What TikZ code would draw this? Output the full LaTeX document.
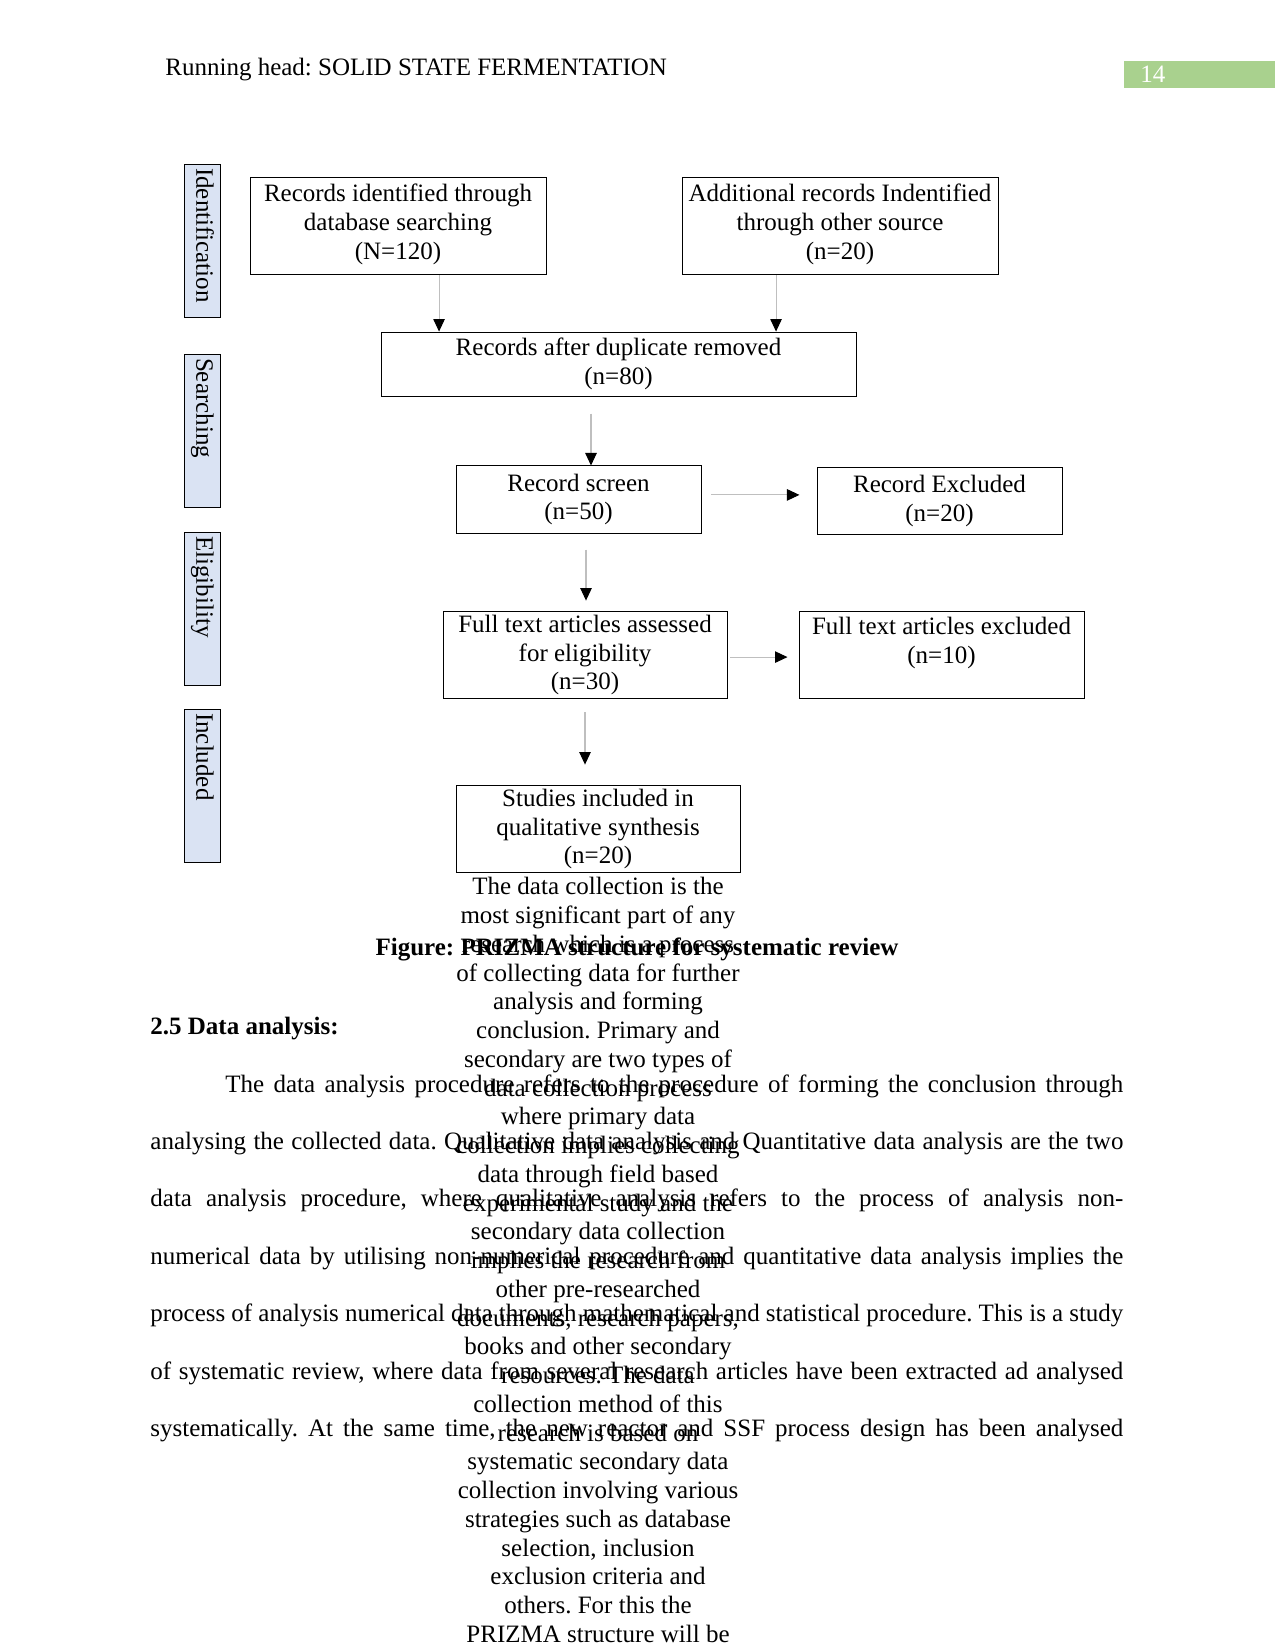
\documentclass[tikz,border=0pt]{standalone}
\usepackage{fontspec}
\setmainfont{Liberation Serif}
\usetikzlibrary{arrows.meta,positioning}
\definecolor{stageblue}{HTML}{DAE3F3}
\definecolor{pagegreen}{HTML}{A9D18E}
\definecolor{flowgray}{HTML}{BFBFBF}
\frenchspacing

\begin{document}
\begin{tikzpicture}[
    x=0.48pt, y=-0.48pt,
    txt/.style={inner sep=0pt, font=\fontsize{12}{13.8}\selectfont},
    boldtxt/.style={inner sep=0pt, font=\fontsize{12}{13.8}\selectfont\bfseries},
    box/.style={draw=black, line width=0.45pt, align=center, inner sep=1pt, font=\fontsize{12}{13.8}\selectfont},
    stage/.style={draw=black, line width=0.45pt, fill=stageblue, rotate=-90, minimum width=73pt, minimum height=17.3pt, text width=70pt, inner xsep=1pt, inner ysep=0pt, align=left, text height=8pt, text depth=2.5pt, font=\fontsize{12}{13.8}\selectfont},
    arrow/.style={-{Triangle[length=6pt,width=5.5pt,color=black]}, draw=flowgray, line width=0.5pt}
]
\path[use as bounding box, fill=white] (0,0) rectangle (1275,1651);

\node[txt, anchor=base west] (head) at (165,76) {Running head: SOLID STATE FERMENTATION};
\node[fill=pagegreen, minimum width=72.5pt, minimum height=13pt, inner sep=0pt, anchor=north west] (pagebox) at (1124,61) {};
\node[txt, anchor=base west, text=white] (pagenum) at (1140,83) {14};

\node[stage] (s1) at (202,241) {Identification};
\node[stage] (s2) at (202,431) {Searching};
\node[stage] (s3) at (202,609) {Eligibility};
\node[stage] (s4) at (202,786) {Included};

\node[box, minimum width=142.1pt, minimum height=47pt, text depth=4pt] (ident) at (398,226) {Records identified through\\database searching\\(N=120)};
\node[box, minimum width=151.7pt, minimum height=47pt, text depth=4pt] (other) at (840,226) {Additional records Indentified\\through other source\\(n=20)};
\node[box, minimum width=228pt, minimum height=30.7pt] (dup) at (618.5,364) {Records after duplicate removed\\(n=80)};
\node[box, minimum width=117.6pt, minimum height=32.2pt] (screen) at (578.5,499.5) {Record screen\\(n=50)};
\node[box, minimum width=117.6pt, minimum height=32.6pt] (excl) at (939.5,501) {Record Excluded\\(n=20)};
\node[box, minimum width=136.3pt, minimum height=42.2pt] (full) at (585,655) {Full text articles assessed\\for eligibility\\(n=30)};
\node[box, minimum width=136.8pt, minimum height=42.2pt] (fullex) at (941.5,655) {Full text articles excluded\\(n=10)\\\mbox{}};
\node[box, minimum width=136.3pt, minimum height=42.2pt] (incl) at (598,829) {Studies included in\\qualitative synthesis\\(n=20)};

\coordinate (identout) at ([xshift=19.7pt]ident.south);
\coordinate (otherout) at ([xshift=-30.7pt]other.south);
\coordinate (dupout) at ([xshift=-13.2pt]dup.south);
\coordinate (screenout) at ([yshift=2.2pt]screen.east);
\coordinate (screendown) at ([xshift=3.6pt]screen.south);
\coordinate (fullout) at ([yshift=-1pt]full.east);
\draw[arrow] (identout) -- (identout |- dup.north);
\draw[arrow] (otherout) -- (otherout |- dup.north);
\draw[arrow, shorten <=8.2pt] (dupout) -- (dupout |- screen.north);
\draw[arrow, shorten <=4.8pt, shorten >=8.2pt] (screenout) -- (screenout -| excl.west);
\draw[arrow, shorten <=7.7pt, shorten >=4.8pt] (screendown) -- (screendown |- full.north);
\draw[arrow, shorten <=1.4pt, shorten >=5.3pt] (fullout) -- (fullout -| fullex.west);
\draw[arrow, shorten <=6.2pt, shorten >=9.6pt] (full.south) -- (full.south |- incl.north);

\node[txt, align=center, anchor=north] (collect) at (598,877) {The data collection is the\\most significant part of any\\research which is a process\\of collecting data for further\\analysis and forming\\conclusion. Primary and\\secondary are two types of\\data collection process\\where primary data\\collection implies collecting\\data through field based\\experimental study and the\\secondary data collection\\implies the research from\\other pre-researched\\documents, research papers,\\books and other secondary\\resources. The data\\collection method of this\\research is based on\\systematic secondary data\\collection involving various\\strategies such as database\\selection, inclusion\\exclusion criteria and\\others. For this the\\PRIZMA structure will be};

\node[boldtxt, anchor=base] (caption) at (637,955) {Figure: PRIZMA structure for systematic review};
\node[boldtxt, anchor=base west] (section) at (150,1034) {2.5 Data analysis:};

\node[txt, anchor=base west] (para1) at (225,1092) {\makebox[431pt][s]{The data analysis procedure refers to the procedure of forming the conclusion through}};
\foreach \ln [count=\i from 2] in {
    {analysing the collected data. Qualitative data analysis and Quantitative data analysis are the two},
    {data analysis procedure, where qualitative analysis refers to the process of analysis non-},
    {numerical data by utilising non-numerical procedure and quantitative data analysis implies the},
    {process of analysis numerical data through mathematical and statistical procedure. This is a study},
    {of systematic review, where data from several research articles have been extracted ad analysed},
    {systematically. At the same time, the new reactor and SSF process design has been analysed}}
  \node[txt, anchor=base west] (para\i) at (150,{1092+57.4*(\i-1)}) {\makebox[467pt][s]{\ln}};
\end{tikzpicture}
\end{document}
